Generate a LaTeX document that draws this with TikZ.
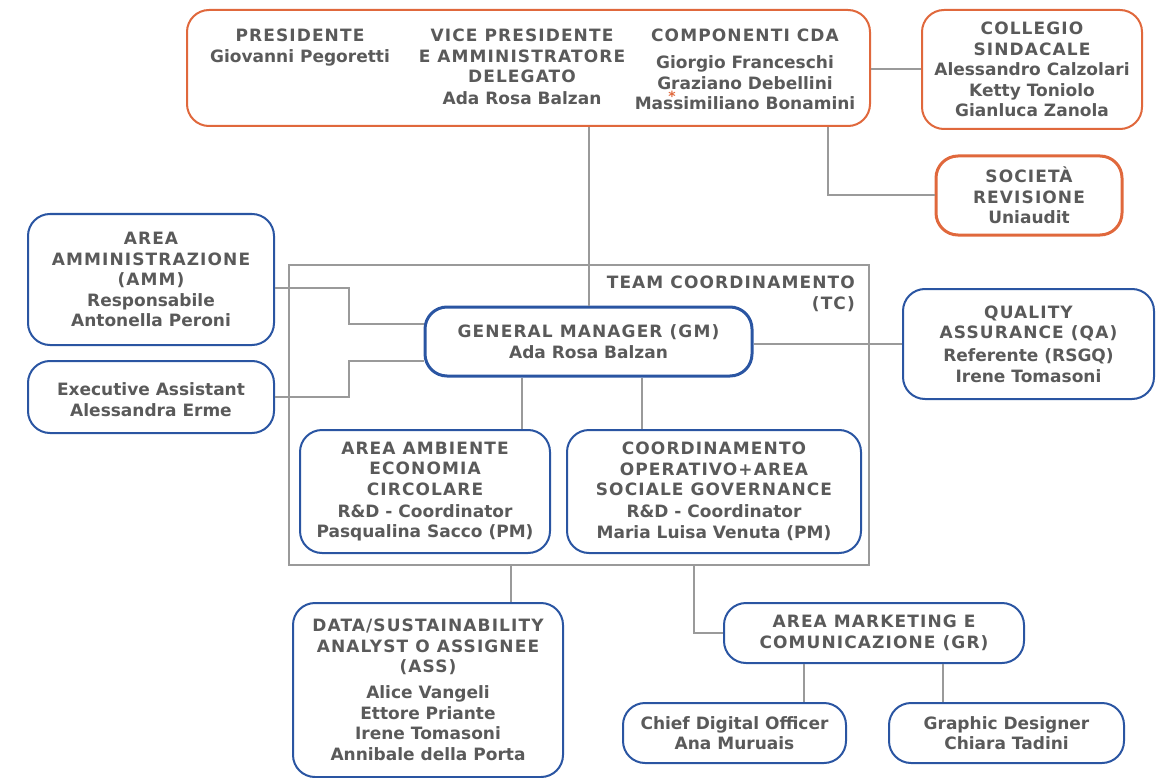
\documentclass[tikz,border=0pt]{standalone}
\usepackage{fontspec}
\setmainfont{DejaVu Sans}
\newfontfamily\hdfont{DejaVu Sans}[LetterSpace=6.5]
\newcommand\HD[1]{{\hdfont\bfseries #1}}
\definecolor{txtc}{HTML}{5A5A5A}
\definecolor{orgc}{HTML}{E0683C}
\definecolor{bluc}{HTML}{2A55A2}
\definecolor{linc}{HTML}{9A9A9A}
\tikzset{
  base/.style={align=center, text=txtc, inner sep=0pt, font=\fontsize{17}{20.5}\selectfont\bfseries},
  bbox/.style={base, draw=bluc, line width=2pt, rounded corners=22pt},
  obox/.style={base, draw=orgc, line width=2pt, rounded corners=22pt},
  plain/.style={base},
  conn/.style={draw=linc, line width=2pt},
}
\begin{document}
\begin{tikzpicture}[x=1pt,y=-1pt]
\useasboundingbox (0,0) rectangle (1164,778);
% team coordinamento frame
\node[draw=linc, line width=2pt, minimum width=580, minimum height=300, inner sep=0pt] (tc) at (579,415) {};
\node[plain, anchor=north east, align=right] (tclab) at (855,276) {\HD{TEAM COORDINAMENTO}\\\HD{(TC)}};
% board
\node[obox, minimum width=683, minimum height=116] (board) at (528.5,68) {};
\node[plain, anchor=north] (pres) at (300,29) {\HD{PRESIDENTE}\\Giovanni Pegoretti};
\node[plain, anchor=north] (vp) at (522,29) {\HD{VICE PRESIDENTE}\\\HD{E AMMINISTRATORE}\\\HD{DELEGATO}\\[1.5pt]Ada Rosa Balzan};
\node[plain, anchor=north] (cda) at (745,29) {\HD{COMPONENTI CDA}\\[6.5pt]Giorgio Franceschi\\Graziano Debellini\\Massimiliano Bonamini};
\node[text=orgc, inner sep=0pt, font=\fontsize{14}{14}\selectfont\bfseries] (star) at (672,96) {*};
% collegio sindacale
\node[obox, minimum width=220, minimum height=119] (coll) at (1032,69.5) {\HD{COLLEGIO}\\\HD{SINDACALE}\\Alessandro Calzolari\\Ketty Toniolo\\Gianluca Zanola};
% societa revisione
\node[obox, line width=3pt, minimum width=186, minimum height=79] (soc) at (1029,195.5) {\HD{SOCIETÀ}\\\HD{REVISIONE}\\Uniaudit};
% left boxes
\node[bbox, minimum width=246, minimum height=131] (amm) at (151,279.5) {\HD{AREA}\\\HD{AMMINISTRAZIONE}\\\HD{(AMM)}\\Responsabile\\Antonella Peroni};
\node[bbox, minimum width=246, minimum height=72] (exec) at (151,397) {};
\node[plain] (exectxt) at (151,399.5) {Executive Assistant\\Alessandra Erme};
% general manager
\node[bbox, line width=3pt, minimum width=327, minimum height=69] (gm) at (588.5,341.5) {\HD{GENERAL MANAGER (GM)}\\Ada Rosa Balzan};
% quality assurance
\node[bbox, minimum width=251, minimum height=110] (qa) at (1028.5,344) {\HD{QUALITY}\\\HD{ASSURANCE (QA)}\\[2.5pt]Referente (RSGQ)\\Irene Tomasoni};
% inner boxes
\node[bbox, minimum width=250, minimum height=123] (amb) at (425,491.5) {\HD{AREA AMBIENTE}\\\HD{ECONOMIA}\\\HD{CIRCOLARE}\\[1.5pt]R\&D - Coordinator\\Pasqualina Sacco (PM)};
\node[bbox, minimum width=294, minimum height=123] (coord) at (714,491.5) {\HD{COORDINAMENTO}\\\HD{OPERATIVO+AREA}\\\HD{SOCIALE GOVERNANCE}\\[1.5pt]R\&D - Coordinator\\Maria Luisa Venuta (PM)};
% bottom boxes
\node[bbox, minimum width=270, minimum height=174] (ass) at (428,690) {\HD{DATA/SUSTAINABILITY}\\\HD{ANALYST O ASSIGNEE}\\\HD{(ASS)}\\[5.5pt]Alice Vangeli\\Ettore Priante\\Irene Tomasoni\\Annibale della Porta};
\node[bbox, minimum width=300, minimum height=60] (mkt) at (874,633) {\HD{AREA MARKETING E}\\\HD{COMUNICAZIONE (GR)}};
\node[bbox, minimum width=223, minimum height=60] (cdo) at (734.5,733) {Chief Digital Officer\\Ana Muruais};
\node[bbox, minimum width=235, minimum height=60] (gd) at (1006.5,733) {Graphic Designer\\Chiara Tadini};
% helper coordinates
\coordinate (xsoc) at (828,0);
\coordinate (xamb) at (522,0);
\coordinate (xcoord) at (642,0);
\coordinate (xass) at (511,0);
\coordinate (xmkt) at (694,0);
\coordinate (xcdo) at (804,0);
\coordinate (xgd) at (943,0);
\coordinate (xleft) at (349,0);
% connectors
\draw[conn] (board.east |- coll.west) -- (coll.west);
\draw[conn] (board.south -| xsoc) |- (soc.west);
\draw[conn] (board.south -| gm.north) -- (gm.north);
\draw[conn] ([yshift=-8.5pt]amm.east) -| ([yshift=17.5pt]gm.west -| xleft) -- ([yshift=17.5pt]gm.west);
\draw[conn] (exec.east) -| ([yshift=-19.5pt]gm.west -| xleft) -- ([yshift=-19.5pt]gm.west);
\draw[conn] (gm.east |- qa.west) -- (qa.west);
\draw[conn] (gm.south -| xamb) -- (amb.north -| xamb);
\draw[conn] (gm.south -| xcoord) -- (coord.north -| xcoord);
\draw[conn] (tc.south -| xass) -- (ass.north -| xass);
\draw[conn] (tc.south -| xmkt) |- (mkt.west);
\draw[conn] (mkt.south -| xcdo) -- (cdo.north -| xcdo);
\draw[conn] (mkt.south -| xgd) -- (gd.north -| xgd);
\end{tikzpicture}
\end{document}
